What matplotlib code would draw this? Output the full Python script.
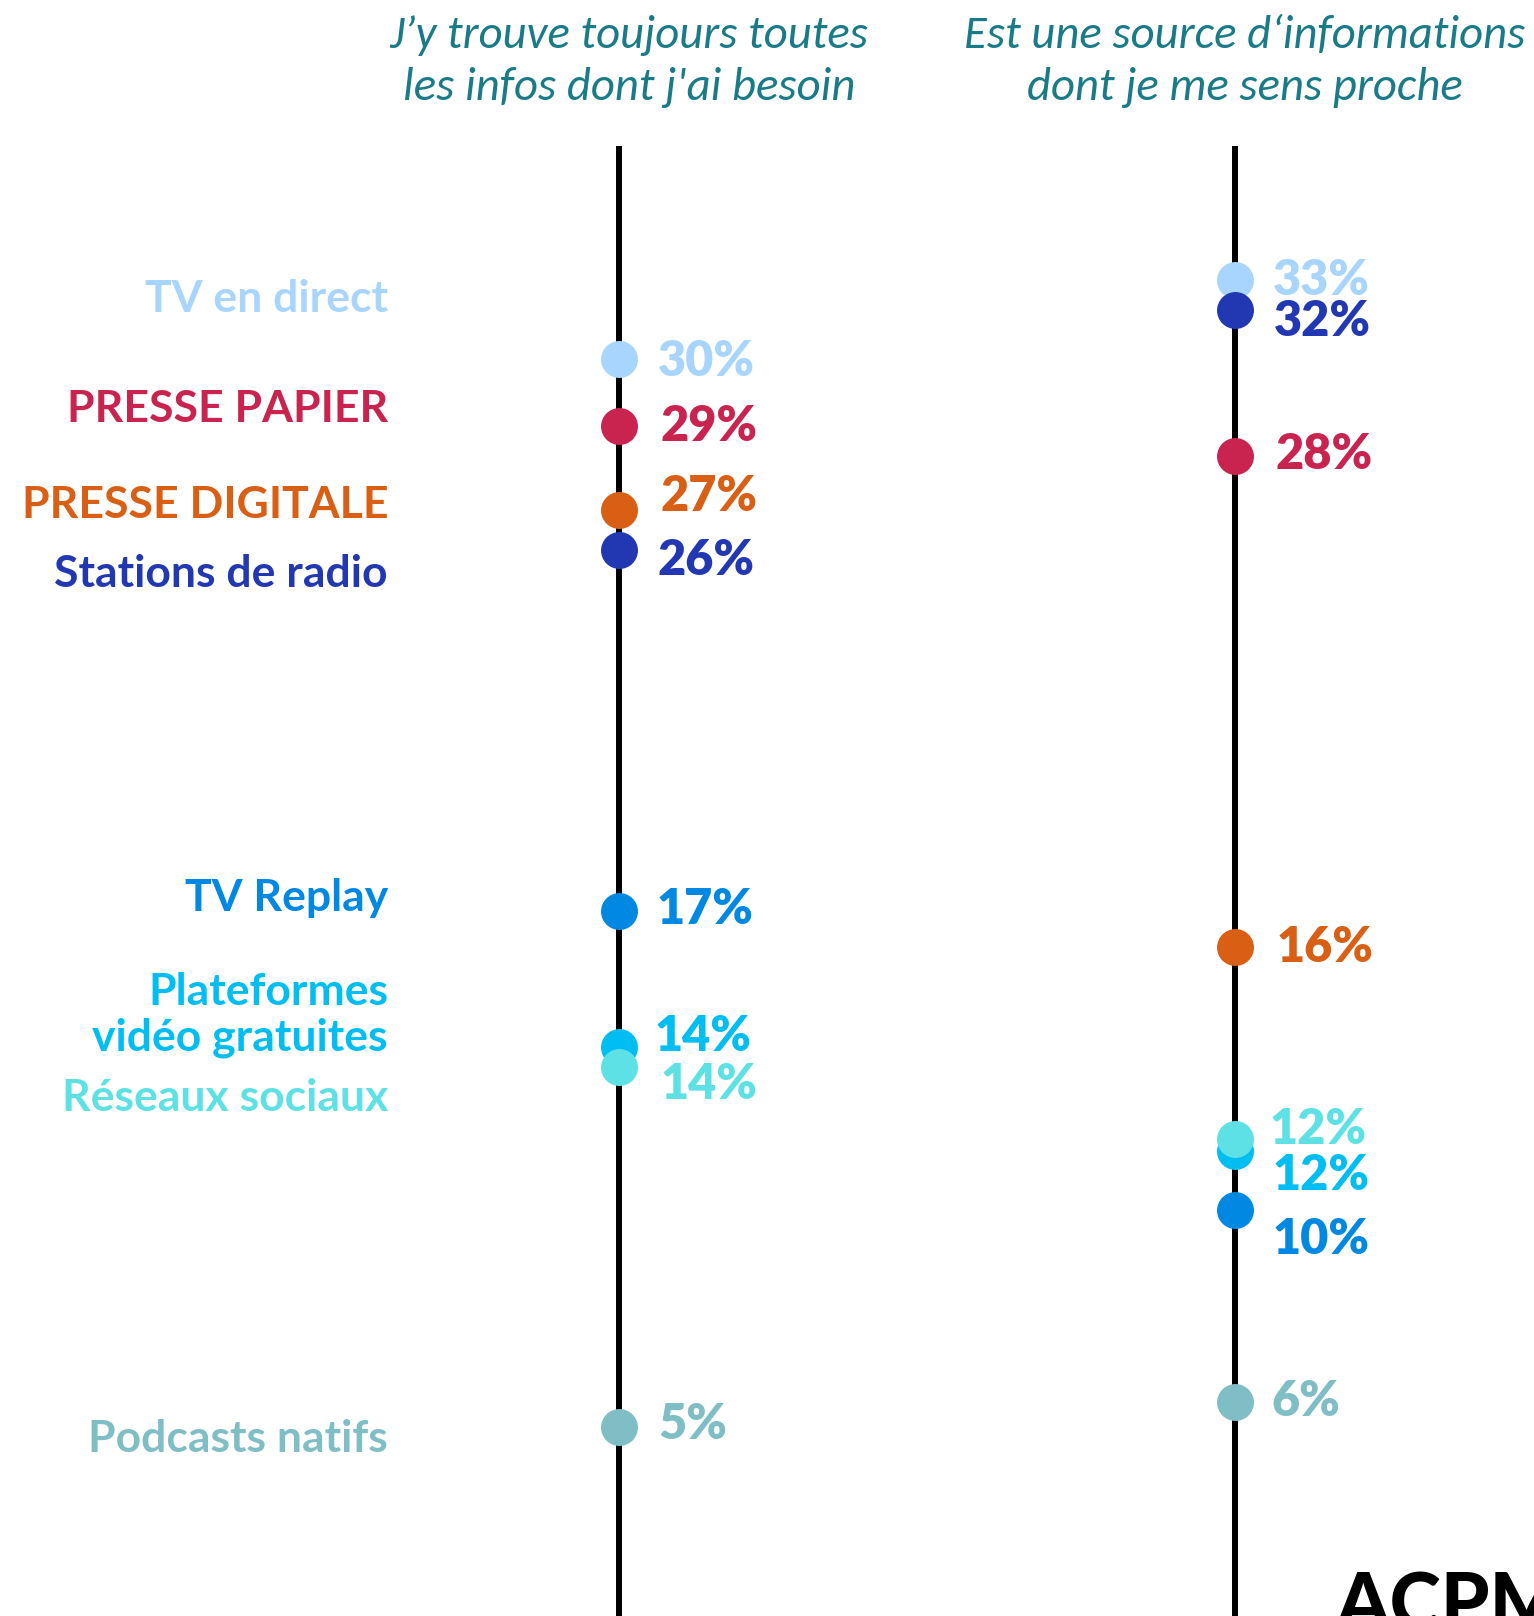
import matplotlib
matplotlib.use("Agg")
import matplotlib.pyplot as plt
from matplotlib import font_manager

W, H = 1534, 1616

# titles of the two columns
columns = ["J’y trouve toujours toutes\nles infos dont j'ai besoin",
           "Est une source d‘informations\ndont je me sens proche"]

categories = ["TV en direct", "PRESSE PAPIER", "PRESSE DIGITALE", "Stations de radio",
              "TV Replay", "Plateformes\nvidéo gratuites", "Réseaux sociaux", "Podcasts natifs"]
colors = ["#A8D5FD", "#C9234F", "#D95F14", "#2238B2",
          "#0088E2", "#00BEF2", "#5DE1E5", "#80BEC6"]

# shown values (%)
infos_pct = [30, 29, 27, 26, 17, 14, 14, 5]
proche_pct = [33, 28, 16, 32, 10, 12, 12, 6]
# where the dots sit on the scale
infos_pos = [30.5, 28.9, 26.9, 25.95, 17.36, 14.12, 13.64, 5.07]
proche_pos = [32.38, 28.19, 16.5, 31.67, 10.24, 11.64, 11.93, 5.67]

# label nudges in pixels (x from axis, y from dot centre, down positive)
infos_dx = [39, 42, 42, 39, 38, 36, 42, 39]
infos_dy = [-1, -3, -17, 7, -4, -13, 14, -6]
proche_dx = [38, 41, 42, 39, 38, 38, 35, 37]
proche_dy = [-3, -5, -3, 9, 27, 21, -12, -3]

# baselines of category names (px from top)
cat_baselines = [[312], [422], [518], [587], [911], [1005, 1051], [1111], [1452]]


def pick_font(names, style="normal"):
    for n in names:
        try:
            font_manager.findfont(font_manager.FontProperties(family=n, style=style),
                                  fallback_to_default=False)
            return n
        except Exception:
            pass
    return "DejaVu Sans"


main_font = pick_font(["Lato", "Open Sans"])
title_font = pick_font(["Carlito", "Lato"], style="italic")

fig = plt.figure(figsize=(W / 100, H / 100), dpi=100)
ax = fig.add_axes([0, 0, 1, 1])
ax.axis("off")

# pixel scale: x column 0 at 619, column 1 at 1235; y = 1640 - 42 * value
x0_px, step_px = 619, 616
ax.set_xlim(-x0_px / step_px, (W - x0_px) / step_px)
ax.set_ylim((1640 - H) / 42, 1640 / 42)


def v_from_px(y):
    return (1640 - y) / 42


ax.vlines([0, 1], v_from_px(H + 20), v_from_px(146), color="black", lw=4.3, zorder=1)

for col, (pos, pct, dxs, dys) in enumerate([(infos_pos, infos_pct, infos_dx, infos_dy),
                                            (proche_pos, proche_pct, proche_dx, proche_dy)]):
    for i in range(len(categories)):
        ax.plot(col, pos[i], "o", ms=26.6, color=colors[i], mec="none", zorder=3 + i)
        ax.annotate(f"{pct[i]}%", (col, pos[i]),
                    xytext=(dxs[i] * 0.72, -(dys[i] + 17.5) * 0.72),
                    textcoords="offset points", ha="left", va="baseline",
                    fontsize=35, fontweight="heavy", family=main_font, color=colors[i])

# category names on the left
for i, name in enumerate(categories):
    for line, yb in zip(name.split("\n"), cat_baselines[i]):
        fig.text(388 / W, 1 - yb / H, line, ha="right", va="baseline",
                 fontsize=32, fontweight="bold", family=main_font, color=colors[i])

# column titles
title_size = 33.7 if title_font == "Carlito" else 30
for cx, title in zip([629, 1245], columns):
    for line, yb in zip(title.split("\n"), [48, 100]):
        fig.text(cx / W, 1 - yb / H, line, ha="center", va="baseline",
                 fontsize=title_size, style="italic", family=title_font, color="#1A7B88")

# logo, cut by the bottom edge
fig.text(1336 / W, 1 - 1630 / H, "ACPM", ha="left", va="baseline",
         fontsize=56, fontweight="black", family=main_font, color="black")

fig.savefig("out.png", dpi=100)
